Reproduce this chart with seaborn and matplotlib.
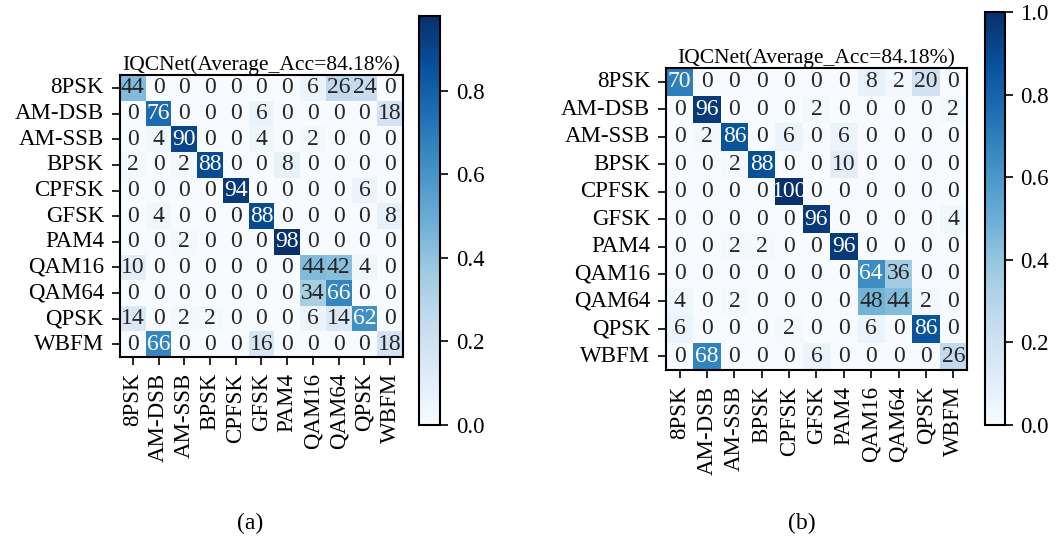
import numpy as np
import pandas as pd
import matplotlib
matplotlib.use("Agg")
import matplotlib.pyplot as plt
import seaborn as sns

plt.rcParams['font.family'] = ['Liberation Serif', 'DejaVu Serif']
plt.rcParams['mathtext.fontset'] = 'stix'

classes = ["8PSK", "AM-DSB", "AM-SSB", "BPSK", "CPFSK", "GFSK",
           "PAM4", "QAM16", "QAM64", "QPSK", "WBFM"]

title_a = "IQCNet(Average_Acc=84.18%)"
title_b = "IQCNet(Average_Acc=84.18%)"

# percentages, panel (a)
cm_a = [
    [44, 0, 0, 0, 0, 0, 0, 6, 26, 24, 0],
    [0, 76, 0, 0, 0, 6, 0, 0, 0, 0, 18],
    [0, 4, 90, 0, 0, 4, 0, 2, 0, 0, 0],
    [2, 0, 2, 88, 0, 0, 8, 0, 0, 0, 0],
    [0, 0, 0, 0, 94, 0, 0, 0, 0, 6, 0],
    [0, 4, 0, 0, 0, 88, 0, 0, 0, 0, 8],
    [0, 0, 2, 0, 0, 0, 98, 0, 0, 0, 0],
    [10, 0, 0, 0, 0, 0, 0, 44, 42, 4, 0],
    [0, 0, 0, 0, 0, 0, 0, 34, 66, 0, 0],
    [14, 0, 2, 2, 0, 0, 0, 6, 14, 62, 0],
    [0, 66, 0, 0, 0, 16, 0, 0, 0, 0, 18],
]

# percentages, panel (b)
cm_b = [
    [70, 0, 0, 0, 0, 0, 0, 8, 2, 20, 0],
    [0, 96, 0, 0, 0, 2, 0, 0, 0, 0, 2],
    [0, 2, 86, 0, 6, 0, 6, 0, 0, 0, 0],
    [0, 0, 2, 88, 0, 0, 10, 0, 0, 0, 0],
    [0, 0, 0, 0, 100, 0, 0, 0, 0, 0, 0],
    [0, 0, 0, 0, 0, 96, 0, 0, 0, 0, 4],
    [0, 0, 2, 2, 0, 0, 96, 0, 0, 0, 0],
    [0, 0, 0, 0, 0, 0, 0, 64, 36, 0, 0],
    [4, 0, 2, 0, 0, 0, 0, 48, 44, 2, 0],
    [6, 0, 0, 0, 2, 0, 0, 6, 0, 86, 0],
    [0, 68, 0, 0, 0, 6, 0, 0, 0, 0, 26],
]

fig = plt.figure(figsize=(10.56, 5.37), dpi=100)

FS_TICK = 16.5
FS_ANN = 17
FS_TITLE = 15.5
FS_CBAR = 16.5
FS_SUB = 17

def draw(cm, title, ax_rect, cax_rect, cbar_ticks, label, label_x):
    arr = np.array(cm, dtype=float)
    df = pd.DataFrame(arr / 100.0, index=classes, columns=classes)
    annot = np.array([[f"{int(v)}" for v in row] for row in arr])
    ax = fig.add_axes(ax_rect)
    cax = fig.add_axes(cax_rect)
    sns.heatmap(df, ax=ax, cbar_ax=cax, cmap="Blues", annot=annot, fmt="",
                annot_kws={"fontsize": FS_ANN}, square=False, linewidths=0)
    ax.set_title(title, fontsize=FS_TITLE, pad=4)
    for s in ax.spines.values():
        s.set_visible(True)
        s.set_linewidth(1.5)
        s.set_color("black")
    ax.tick_params(axis="y", direction="out", length=5.5, width=1.2,
                   labelsize=FS_TICK, pad=6)
    ax.tick_params(axis="x", direction="out", length=5.5, width=1.2,
                   labelsize=FS_TICK, pad=6)
    ax.set_xticklabels(classes, rotation=90, fontsize=FS_TICK)
    ax.set_yticklabels(classes, rotation=0, fontsize=FS_TICK)
    cbar = ax.collections[0].colorbar
    cbar.set_ticks(cbar_ticks)
    cbar.set_ticklabels([f"{t:.1f}" for t in cbar_ticks])
    cbar.outline.set_linewidth(1.5)
    cbar.outline.set_edgecolor("black")
    cax.tick_params(labelsize=FS_CBAR, length=6, width=1.2, pad=5)
    fig.text(label_x, 0.015, label, fontsize=FS_SUB, ha="center", va="baseline")
    return ax

draw(cm_a, title_a, [0.1136, 0.335, 0.268, 0.525], [0.397, 0.2086, 0.02, 0.762],
     [0.0, 0.2, 0.4, 0.6, 0.8], "(a)", 0.237)
draw(cm_b, title_b, [0.6307, 0.311, 0.285, 0.562], [0.9328, 0.2086, 0.019, 0.769],
     [0.0, 0.2, 0.4, 0.6, 0.8, 1.0], "(b)", 0.759)

fig.savefig("out.png", dpi=100)
